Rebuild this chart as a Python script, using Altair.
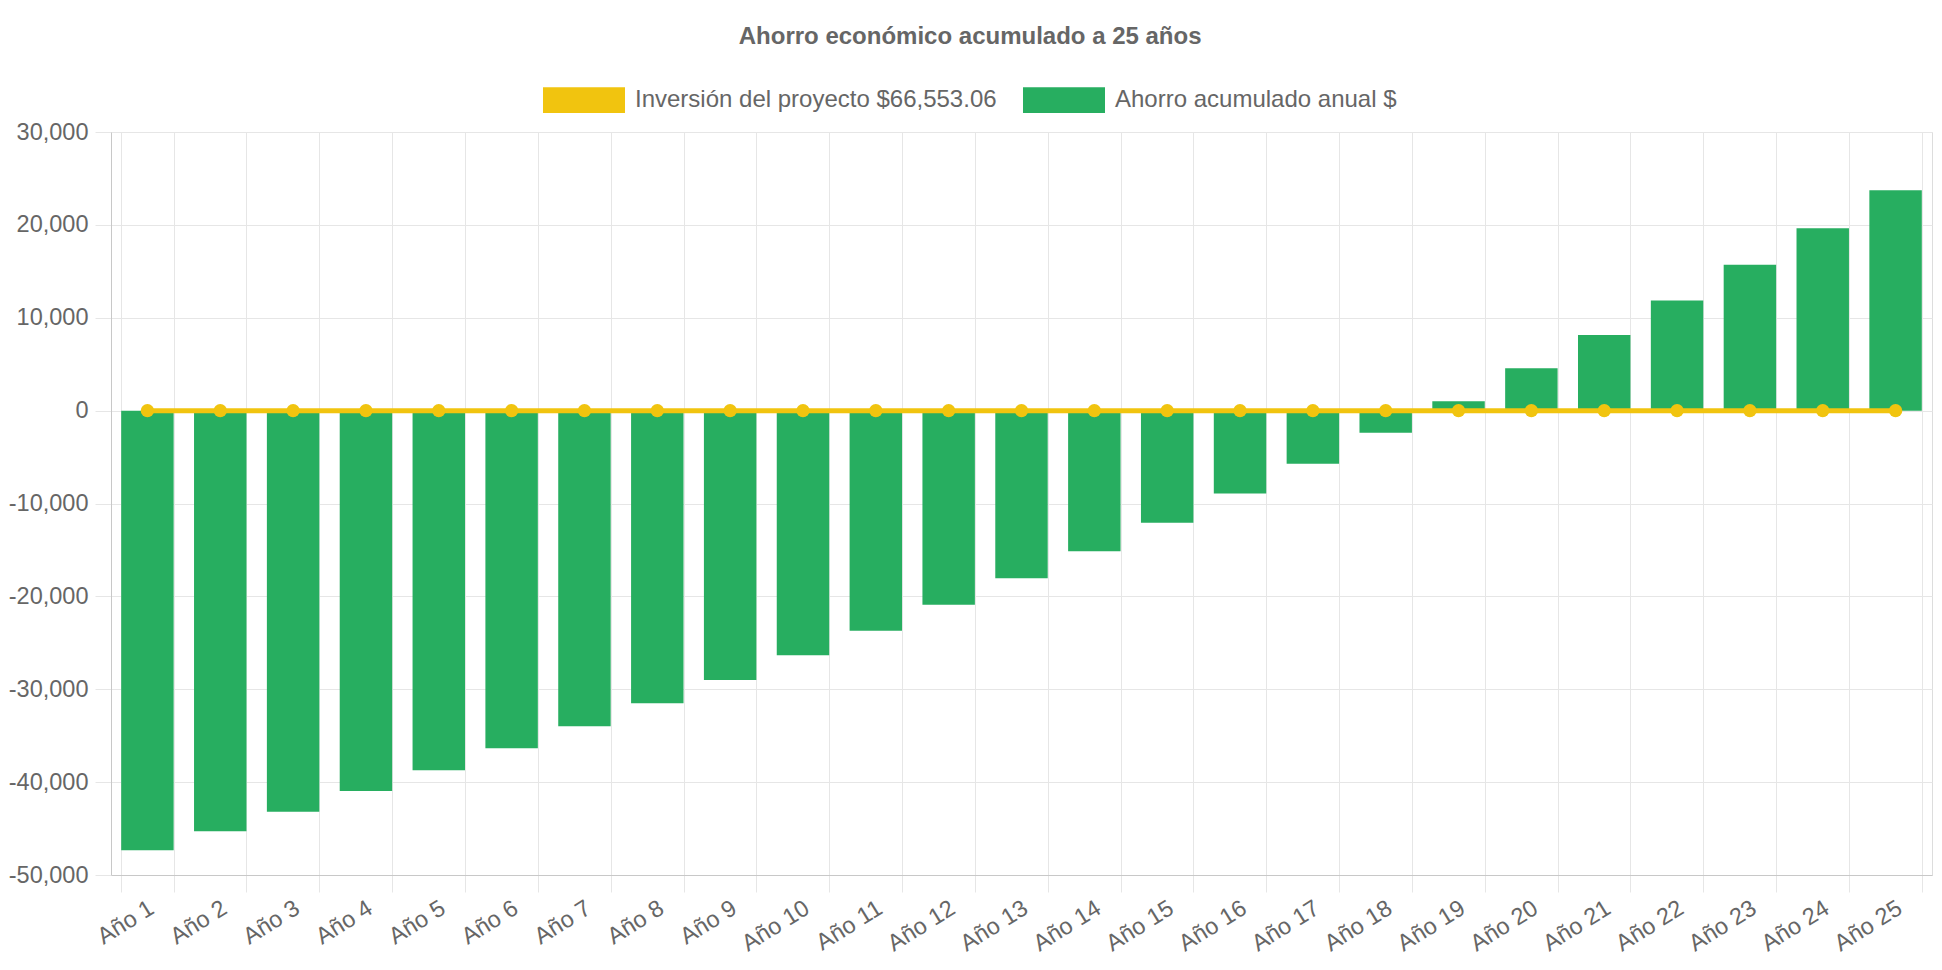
import altair as alt
import pandas as pd

years = ["Año 1", "Año 2", "Año 3", "Año 4", "Año 5", "Año 6", "Año 7", "Año 8",
         "Año 9", "Año 10", "Año 11", "Año 12", "Año 13", "Año 14", "Año 15",
         "Año 16", "Año 17", "Año 18", "Año 19", "Año 20", "Año 21", "Año 22",
         "Año 23", "Año 24", "Año 25"]
ahorro = [-47340, -45300, -43180, -40950, -38720, -36350, -33990, -31510,
          -29000, -26340, -23700, -20910, -18040, -15130, -12070, -8910,
          -5710, -2370, 1000, 4550, 8140, 11860, 15700, 19640, 23730]
inversion = [0, 0, 0, 0, 0, 0, 0, 0, 0, 0, 0, 0, 0, 0, 0, 0, 0, 0, 0, 0,
             0, 0, 0, 0, 0]
serie_inv = "Inversión del proyecto $66,553.06"
serie_ah = "Ahorro acumulado anual $"
y_ticks = [-50000, -40000, -30000, -20000, -10000, 0, 10000, 20000, 30000]
title_text = "Ahorro económico acumulado a 25 años"

df = pd.DataFrame({
    "year": years + years,
    "value": ahorro + inversion,
    "serie": [serie_ah] * len(years) + [serie_inv] * len(years),
})

FONT = "Liberation Sans"
TXT = "#666666"
GRID = "#e6e6e6"
AX = "#c8c8c8"
YELLOW = "#F1C40F"
GREEN = "#27AE60"
W, H = 1821, 743

x_enc = alt.X(
    "year:N", sort=years, title=None,
    scale=alt.Scale(paddingInner=0.28, paddingOuter=0.14),
    axis=alt.Axis(tickBand="extent", grid=True, gridColor=GRID, ticks=True,
                  tickSize=17, tickColor=GRID, domainColor=AX,
                  labelAngle=-32, labelAlign="right", labelBaseline="middle",
                  labelPadding=14, labelOffset=4, labelFont=FONT,
                  labelFontSize=23.5, labelColor=TXT),
)
y_enc = alt.Y(
    "value:Q", title=None,
    scale=alt.Scale(domain=[-50000, 30000], nice=False, zero=False),
    axis=alt.Axis(values=y_ticks, grid=True, gridColor=GRID, tickSize=16,
                  tickColor=GRID, domainColor=AX, labelPadding=7,
                  labelFont=FONT, labelFontSize=23.5, labelColor=TXT,
                  labelExpr="(datum.value < 0 ? '-' : '') + format(abs(datum.value), ',')"),
)

base = alt.Chart(df).encode(x=x_enc, y=y_enc)

bars = base.transform_filter(alt.datum.serie == serie_ah).mark_bar(color=GREEN).encode(
    color=alt.Color(
        "serie:N",
        scale=alt.Scale(domain=[serie_inv, serie_ah], range=[YELLOW, GREEN]),
        legend=alt.Legend(orient="none", legendX=447, legendY=-58,
                          direction="horizontal", title=None,
                          symbolType="M-1.6,-0.5H1.6V0.5H-1.6Z",
                          symbolSize=2627, symbolStrokeWidth=0,
                          labelFont=FONT, labelFontSize=24, labelColor=TXT,
                          labelLimit=0, labelOffset=25, columnPadding=25,
                          padding=0),
    )
)

line = base.transform_filter(alt.datum.serie == serie_inv).mark_line(
    color=YELLOW, strokeWidth=5,
    point=alt.OverlayMarkDef(color=YELLOW, size=180, filled=True, opacity=1),
)

chart = alt.layer(bars, line).properties(
    width=W, height=H,
    autosize=alt.AutoSizeParams(type="none"),
    padding={"left": 103, "top": 124, "right": 2, "bottom": 87},
    title=alt.TitleParams(title_text, font=FONT, fontSize=24, fontWeight="bold",
                          color=TXT, anchor="middle", frame="bounds", offset=25),
).configure_view(stroke=GRID).configure(background="white")

chart.save("out.html", embed_options={"renderer": "svg", "actions": False})
